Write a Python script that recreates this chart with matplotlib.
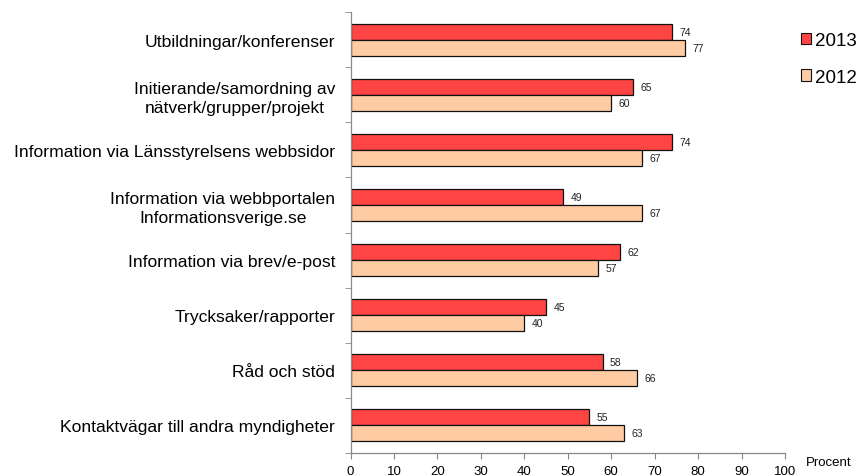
import matplotlib
matplotlib.use("Agg")
import matplotlib.pyplot as plt
import numpy as np
from matplotlib.patches import Patch

categories = [
    "Utbildningar/konferenser",
    "Initierande/samordning av\nnätverk/grupper/projekt",
    "Information via Länsstyrelsens webbsidor",
    "Information via webbportalen\nInformationsverige.se",
    "Information via brev/e-post",
    "Trycksaker/rapporter",
    "Råd och stöd",
    "Kontaktvägar till andra myndigheter",
]
values_2013 = [74, 65, 74, 49, 62, 45, 58, 55]
values_2012 = [77, 60, 67, 67, 57, 40, 66, 63]
xticks = list(range(0, 101, 10))

plt.rcParams["font.family"] = ["Liberation Sans", "DejaVu Sans"]

W, H = 866, 477
fig = plt.figure(figsize=(W / 100, H / 100), dpi=100)
ax = fig.add_axes([350.5 / W, 1 - 454 / H, (785 - 350.5) / W, (454 - 13) / H])

n = len(categories)
pos = np.arange(n)
h = 0.29
c13 = "#FF4444"
c12 = "#FFCBA2"

b13 = ax.barh(pos - h / 2, values_2013, height=h, color=c13, edgecolor="#111111", linewidth=0.9)
b12 = ax.barh(pos + h / 2, values_2012, height=h, color=c12, edgecolor="#111111", linewidth=0.9)

for bars, vals in ((b13, values_2013), (b12, values_2012)):
    for rect, v in zip(bars, vals):
        ax.text(v + 1.7, rect.get_y() + rect.get_height() / 2, str(v),
                va="center", ha="left", fontsize=7.5, color="#222222")

ax.set_xlim(0, 100)
ax.set_ylim(n - 0.5, -0.5)
ax.set_xticks(xticks)
ax.set_xticklabels([str(t) for t in xticks], fontsize=9.5)
ax.set_yticks(pos)
ax.set_yticklabels(categories, fontsize=12.6, ha="right", multialignment="center")
for lbl in ax.get_yticklabels():
    lbl.set_linespacing(1.3)
ax.tick_params(axis="y", which="major", length=0, pad=11)
ax.set_yticks(np.arange(-0.5, n, 1.0), minor=True)
ax.tick_params(axis="y", which="minor", length=4, color="#888888", direction="out")
ax.tick_params(axis="x", length=4, color="#888888", direction="out", pad=5)

for side in ("top", "right"):
    ax.spines[side].set_visible(False)
for side in ("left", "bottom"):
    ax.spines[side].set_color("#888888")
    ax.spines[side].set_linewidth(0.9)

fig.text(806 / W, 1 - 463 / H, "Procent", fontsize=9.5, va="center", ha="left")

handles = [Patch(facecolor=c13, edgecolor="#111111", linewidth=0.8, label="2013"),
           Patch(facecolor=c12, edgecolor="#111111", linewidth=0.8, label="2012")]
fig.legend(handles=handles, loc="upper left", bbox_to_anchor=(801 / W, 1 - 33 / H),
           frameon=False, fontsize=13.5, handlelength=0.55, handleheight=0.55,
           handletextpad=0.2, labelspacing=1.05, borderpad=0, borderaxespad=0)

fig.savefig("out.png", dpi=100)
